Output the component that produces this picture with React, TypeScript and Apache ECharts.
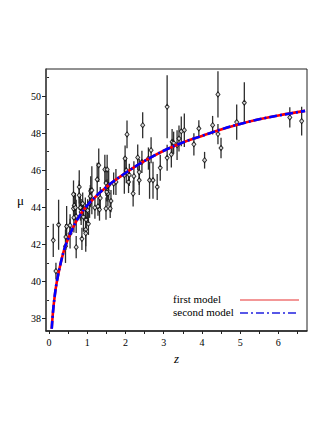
import React, { useEffect, useRef } from "react";
import * as echarts from "echarts";

// Observed data (redshift z, distance modulus mu, 1-sigma error)
const zObs = [
  0.11, 0.18, 0.25, 0.43, 0.44, 0.46, 0.55, 0.55, 0.64, 0.66,
  0.64, 0.69, 0.71, 0.71, 0.79, 0.79, 0.82, 0.84, 0.86, 0.88,
  0.9, 0.95, 0.96, 0.97, 1.03, 1.06, 1.09, 1.12, 1.08, 1.2,
  1.26, 1.3, 1.28, 1.32, 1.46, 1.52, 1.49, 1.56, 1.52, 1.54,
  1.49, 1.51, 1.62, 1.69, 1.75, 1.97, 1.99, 2.04, 2.1, 2.08,
  2.2, 2.22, 2.32, 2.36, 2.36, 2.45, 2.43, 2.6, 2.63, 2.67,
  2.72, 2.83, 2.91, 3.09, 3.09, 3.2, 3.22, 3.26, 3.35, 3.4,
  3.46, 3.54, 3.79, 3.92, 4.07, 4.28, 4.42, 4.42, 4.5, 4.91,
  5.11, 6.3, 6.61, 0.65, 1.01, 1.34, 1.6, 2.02, 0.96,
];
const muObs = [
  42.22, 40.56, 43.06, 41.9, 42.4, 42.97, 42.58, 43.03, 44.7, 44.1,
  43.93, 43.98, 43.51, 41.85, 45.1, 44.65, 43.98, 43.75, 42.3, 44.2,
  43.48, 43.93, 42.8, 43.33, 43.11, 44.23, 44.88, 44.92, 44.6, 43.98,
  45.5, 46.27, 44.05, 43.88, 46.04, 46.04, 45.31, 45.19, 44.92, 44.74,
  43.93, 44.83, 44.34, 45.28, 45.37, 45.73, 46.63, 47.93, 45.75, 45.37,
  44.74, 45.68, 46.69, 45.9, 45.46, 48.43, 46.45, 46.63, 45.46, 47.08,
  45.46, 45.1, 46.13, 49.42, 46.67, 46.85, 47.53, 47.48, 47.35, 47.71,
  48.1, 48.16, 47.4, 48.25, 46.54, 48.43, 50.09, 47.95, 47.2, 48.6,
  49.64, 48.85, 48.65, 43.44, 43.84, 44.5, 43.93, 46.0, 42.6,
];
const muErr = [
  0.9, 0.45, 1.35, 0.9, 0.7, 1.1, 0.8, 0.6, 0.75, 0.7,
  0.6, 0.8, 0.9, 0.6, 0.9, 0.8, 0.7, 0.7, 0.6, 0.6,
  0.8, 0.6, 1.2, 0.7, 0.6, 0.8, 0.8, 1.3, 0.6, 0.6,
  0.9, 0.9, 0.5, 0.6, 0.8, 0.8, 0.7, 0.8, 0.6, 0.7,
  0.6, 0.5, 0.6, 0.6, 0.7, 1.0, 0.7, 0.75, 0.6, 0.6,
  0.7, 0.8, 0.7, 0.7, 0.8, 0.7, 0.6, 0.6, 1.0, 0.7,
  1.0, 0.7, 0.7, 1.7, 0.7, 0.7, 0.7, 0.6, 0.8, 0.7,
  0.8, 0.9, 0.6, 0.45, 0.45, 0.5, 1.25, 0.55, 0.55, 0.95,
  1.1, 0.55, 0.78, 0.8, 0.6, 0.6, 0.5, 0.7, 0.7,
];

// Model curves
const zModel = [0.07, 0.1, 0.15, 0.2, 0.3, 0.4, 0.5, 0.7, 1, 1.5, 2, 2.5, 3, 3.5, 4, 4.5, 5, 5.5, 6, 6.7];
const muFirst = [37.45, 38.3, 39.25, 39.95, 40.95, 41.75, 42.3, 43.2, 44.1, 45.1, 45.85, 46.5, 47.05, 47.5, 47.85, 48.2, 48.5, 48.75, 48.95, 49.2];
const muSecond = [37.45, 38.3, 39.25, 39.95, 40.95, 41.75, 42.3, 43.2, 44.1, 45.1, 45.85, 46.5, 47.05, 47.5, 47.85, 48.2, 48.5, 48.75, 48.95, 49.2];

// Ticks
const xTickLabels = [0, 1, 2, 3, 4, 5, 6];
const xTicks = [0, 0.5, 1, 1.5, 2, 2.5, 3, 3.5, 4, 4.5, 5, 5.5, 6, 6.5];
const yTickLabels = [38, 40, 42, 44, 46, 48, 50];
const yMinorTicks = [39, 41, 43, 45, 47, 49, 51];

const legendNames = ["first model", "second model"];

const FONT = "'Liberation Serif', 'DejaVu Serif', serif";

export default function App() {
  const ref = useRef<HTMLDivElement>(null);
  useEffect(() => {
    if (!ref.current) return;
    const chart = echarts.init(ref.current, null, { renderer: "svg" });
    const obs = zObs.map((z, i) => [z, muObs[i], muErr[i]]);
    const first = zModel.map((z, i) => [z, muFirst[i]]);
    const second = zModel.map((z, i) => [z, muSecond[i]]);
    chart.setOption({
      animation: false,
      backgroundColor: "#ffffff",
      grid: {
        left: 46,
        top: 69,
        right: 25,
        bottom: 99,
        show: true,
        borderColor: "#222",
        borderWidth: 1,
        backgroundColor: "transparent",
      },
      xAxis: {
        type: "value",
        min: -0.08,
        max: 6.75,
        name: "z",
        nameLocation: "middle",
        nameGap: 18,
        nameTextStyle: { fontFamily: FONT, fontSize: 13, fontStyle: "italic", color: "#000" },
        axisLine: { show: true, onZero: false, lineStyle: { color: "#222", width: 1.5 } },
        axisTick: { show: true, customValues: xTicks, length: 3, lineStyle: { color: "#222" } },
        axisLabel: { customValues: xTickLabels, fontFamily: FONT, fontSize: 10, color: "#000", margin: 6 },
        splitLine: { show: false },
      },
      yAxis: [
        {
          type: "value",
          min: 37.33,
          max: 51.46,
          name: "μ",
          nameLocation: "middle",
          nameGap: 22,
          nameRotate: 0,
          nameTextStyle: { fontFamily: FONT, fontSize: 13, color: "#000" },
          axisLine: { show: true, onZero: false, lineStyle: { color: "#444", width: 1.5 } },
          axisTick: { show: true, customValues: yTickLabels, length: 4, lineStyle: { color: "#222" } },
          axisLabel: { customValues: yTickLabels, fontFamily: FONT, fontSize: 10, color: "#000", margin: 5 },
          splitLine: { show: false },
        },
        {
          type: "value",
          min: 37.33,
          max: 51.46,
          position: "left",
          axisLine: { show: false },
          axisTick: { show: true, customValues: yMinorTicks, length: 2, lineStyle: { color: "#222" } },
          axisLabel: { show: false },
          splitLine: { show: false },
        },
      ],
      series: [
        {
          type: "custom",
          name: "errors",
          data: obs,
          clip: true,
          z: 2,
          renderItem: (params: any, api: any) => {
            const x = api.value(0);
            const y = api.value(1);
            const e = api.value(2);
            const p1 = api.coord([x, y - e]);
            const p2 = api.coord([x, y + e]);
            return {
              type: "line",
              shape: { x1: p1[0], y1: p1[1], x2: p2[0], y2: p2[1] },
              style: { stroke: "#2e2e2e", lineWidth: 1.3 },
            };
          },
        },
        {
          type: "scatter",
          name: "data",
          data: obs.map((d) => [d[0], d[1]]),
          symbol: "diamond",
          symbolSize: [4, 5],
          itemStyle: { color: "#fff", borderColor: "#000", borderWidth: 1 },
          z: 3,
        },
        {
          type: "line",
          name: legendNames[0],
          data: first,
          smooth: 0.4,
          showSymbol: false,
          lineStyle: { color: "#ff0000", width: 2.6 },
          z: 4,
        },
        {
          type: "line",
          name: legendNames[1],
          data: second,
          smooth: 0.4,
          showSymbol: false,
          lineStyle: { color: "#0000ff", width: 2.6, type: [8, 3, 2, 3] },
          z: 5,
        },
      ],
      graphic: [
        {
          type: "text",
          left: 173,
          top: 293,
          style: { text: legendNames[0], font: `11px ${FONT}`, fill: "#000" },
        },
        {
          type: "line",
          shape: { x1: 240, y1: 300, x2: 299, y2: 300 },
          style: { stroke: "#e83030", lineWidth: 1.2 },
        },
        {
          type: "text",
          left: 173,
          top: 306,
          style: { text: legendNames[1], font: `11px ${FONT}`, fill: "#000" },
        },
        {
          type: "line",
          shape: { x1: 240, y1: 313, x2: 299, y2: 313 },
          style: { stroke: "#2020e0", lineWidth: 1.4, lineDash: [8, 3, 2, 3] },
        },
      ],
    });
    return () => chart.dispose();
  }, []);
  return (
    <div
      ref={ref}
      style={{ position: "absolute", left: 0, top: 0, width: 332, height: 430, background: "#fff" }}
    />
  );
}
